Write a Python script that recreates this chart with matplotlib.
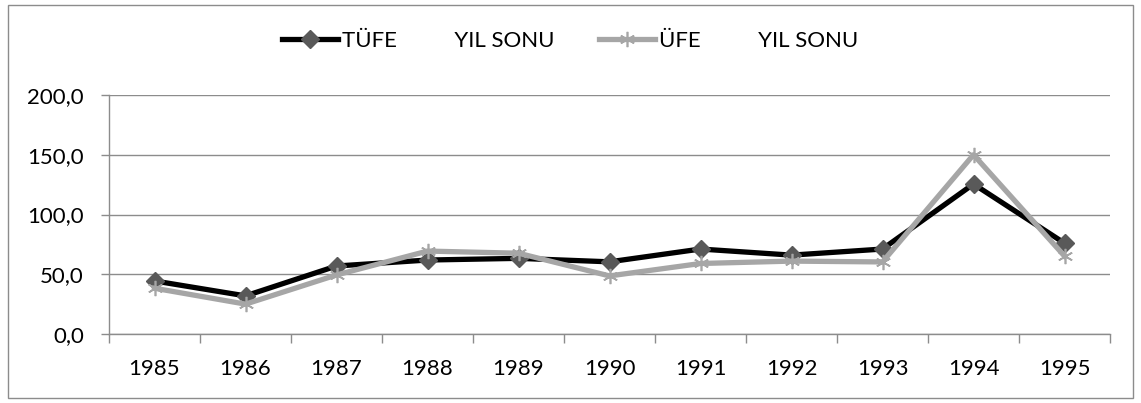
import matplotlib
matplotlib.use("Agg")
import matplotlib.pyplot as plt
from matplotlib.patches import Rectangle

years = ["1985", "1986", "1987", "1988", "1989", "1990", "1991", "1992", "1993", "1994", "1995"]
tufe = [44.4, 31.9, 56.9, 61.9, 63.3, 60.4, 71.1, 66.0, 71.1, 125.5, 76.0]
ufe = [38.3, 25.0, 49.4, 69.4, 67.6, 48.6, 59.0, 61.0, 60.3, 150.0, 65.2]
yticks = [0, 50, 100, 150, 200]
ytick_labels = ["0,0", "50,0", "100,0", "150,0", "200,0"]
series_labels = ["TÜFE          YIL SONU", "ÜFE          YIL SONU"]

plt.rcParams['font.family'] = ['Lato', 'DejaVu Sans']

fig = plt.figure(figsize=(11.41, 4.03), dpi=100)
fig.patches.append(Rectangle((8 / 1141, 5 / 403), 1125 / 1141, 393 / 403,
                             transform=fig.transFigure, fill=False,
                             edgecolor="#8c8c8c", linewidth=1.0))

ax = fig.add_axes([109 / 1141, 1 - 334 / 403, 1001 / 1141, 239 / 403])
x = list(range(len(years)))

ax.plot(x, tufe, color="black", linewidth=3.8, marker="D", markersize=9,
        markerfacecolor="#595959", markeredgecolor="#595959",
        label=series_labels[0], zorder=3)
ax.plot(x, ufe, color="#a6a6a6", linewidth=3.8, marker=(6, 2, 0), markersize=11,
        markeredgecolor="#a6a6a6", markeredgewidth=1.2,
        label=series_labels[1], zorder=4)

ax.set_xlim(-0.5, len(years) - 0.5)
ax.set_ylim(0, 200)
ax.set_yticks(yticks)
ax.set_yticklabels(ytick_labels, fontsize=16)
ax.set_xticks(x)
ax.set_xticklabels(years, fontsize=16)
ax.set_xticks([i - 0.5 for i in range(len(years) + 1)], minor=True)
ax.tick_params(axis="x", which="major", length=0, pad=18)
ax.tick_params(axis="x", which="minor", length=6.5, color="#8c8c8c", width=1)
ax.tick_params(axis="y", length=6, color="#8c8c8c", width=1, pad=12)

ax.grid(axis="y", color="#8c8c8c", linewidth=1)
ax.set_axisbelow(True)
for side in ("top", "right"):
    ax.spines[side].set_visible(False)
for side in ("left", "bottom"):
    ax.spines[side].set_color("#8c8c8c")
    ax.spines[side].set_linewidth(1)

fig.legend(loc="center", bbox_to_anchor=(0.5, 1 - 41 / 403), ncol=2,
           frameon=False, fontsize=16, handlelength=2.5, handletextpad=0.2,
           columnspacing=2.0)

fig.savefig("out.png", dpi=100)
